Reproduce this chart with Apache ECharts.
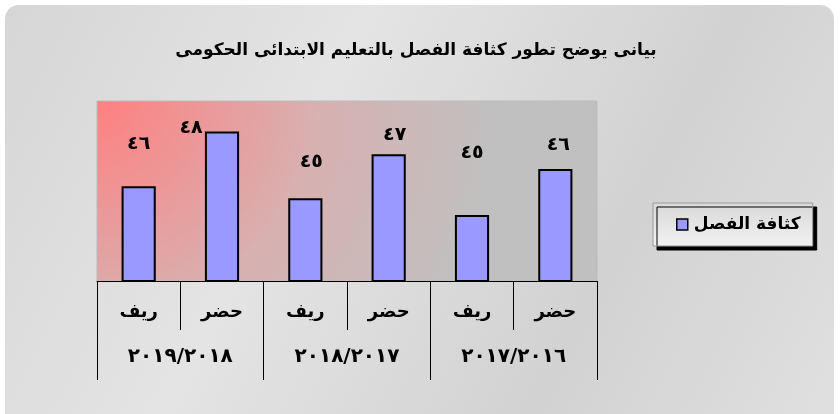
<!DOCTYPE html>
<html>
<head>
<meta charset="utf-8">
<script src="https://cdn.jsdelivr.net/npm/echarts@6/dist/echarts.min.js"></script>
<style>
html,body{margin:0;padding:0;background:#ffffff;}
#chart{width:840px;height:414px;}
</style>
</head>
<body>
<div id="chart"></div>
<script>
// ---- data (index 0 = rightmost category; axis is drawn right-to-left) ----
const chartTitle = 'بيانى يوضح تطور كثافة الفصل بالتعليم الابتدائى الحكومى';
const seriesName = 'كثافة الفصل';
const areaLabels = ['حضر', 'ريف', 'حضر', 'ريف', 'حضر', 'ريف'];
const yearLabels = ['٢٠١٧/٢٠١٦', '٢٠١٨/٢٠١٧', '٢٠١٩/٢٠١٨'];
const density = [46.36, 44.57, 46.93, 45.22, 47.81, 45.68];
const valueLabels = ['٤٦', '٤٥', '٤٧', '٤٥', '٤٨', '٤٦'];

// ---- style ----
const FONT = '"DejaVu Sans", Arial, sans-serif';
const labelShift = [[3, -9], [0, -47], [6, -5], [6, -22], [-31, 11], [0, -28]];

const chart = echarts.init(document.getElementById('chart'), null, {renderer: 'canvas'});

const barData = density.map((v, i) => ({
  value: v,
  label: {offset: labelShift[i]}
}));

chart.setOption({
  animation: false,
  backgroundColor: '#ffffff',
  graphic: [{
    type: 'rect',
    z: -10,
    shape: {x: 5, y: 5, width: 829, height: 430, r: 14},
    style: {
      fill: new echarts.graphic.LinearGradient(0, 0, 1, 1, [
        {offset: 0, color: '#d6d6d6'},
        {offset: 0.35, color: '#e4e4e4'},
        {offset: 0.7, color: '#d2d2d2'},
        {offset: 1, color: '#e0e0e0'}
      ])
    },
    silent: true
  }],
  title: {
    text: chartTitle,
    left: 411,
    textAlign: 'center',
    top: 37,
    textStyle: {fontFamily: FONT, fontSize: 17, fontWeight: 'bold', color: '#000'}
  },
  legend: {
    data: [seriesName],
    left: 653,
    top: 203,
    padding: [13, 12, 13, 23],
    itemWidth: 11,
    itemHeight: 11,
    itemGap: 4,
    icon: 'rect',
    backgroundColor: new echarts.graphic.LinearGradient(0, 0, 0, 1, [
      {offset: 0, color: '#d8d8d8'},
      {offset: 1, color: '#f2f2f2'}
    ]),
    borderColor: '#999',
    borderWidth: 1,
    shadowColor: '#000',
    shadowBlur: 0,
    shadowOffsetX: 4,
    shadowOffsetY: 4,
    itemStyle: {borderColor: '#000', borderWidth: 1.5},
    textStyle: {fontFamily: FONT, fontSize: 17, fontWeight: 'bold', color: '#000', padding: [0, 0, 0, 1]}
  },
  grid: {
    left: 97, right: 243, top: 101, bottom: 133,
    show: true,
    borderColor: '#bbb',
    borderWidth: 1,
    backgroundColor: new echarts.graphic.RadialGradient(0, 0, 2.2, [
      {offset: 0, color: '#ff8080'},
      {offset: 0.55, color: '#d8b0b0'},
      {offset: 1, color: '#c0c0c0'}
    ])
  },
  xAxis: [{
    type: 'category',
    inverse: true,
    data: areaLabels,
    position: 'bottom',
    axisLine: {show: true, lineStyle: {color: '#000', width: 1}},
    axisTick: {show: true, interval: 0, length: 49, lineStyle: {color: '#000', width: 1}},
    axisLabel: {
      interval: 0, margin: 22,
      fontFamily: FONT, fontSize: 18, fontWeight: 'bold', color: '#000'
    }
  }, {
    type: 'category',
    inverse: true,
    data: yearLabels,
    position: 'bottom',
    axisLine: {show: false},
    axisTick: {show: true, interval: 0, length: 99, lineStyle: {color: '#000', width: 1}},
    axisLabel: {
      interval: 0, margin: 66,
      fontFamily: FONT, fontSize: 20, fontWeight: 'bold', color: '#000'
    }
  }],
  yAxis: {
    type: 'value',
    min: 42,
    max: 49,
    show: false,
    splitLine: {show: false}
  },
  series: [{
    name: seriesName,
    type: 'bar',
    xAxisIndex: 0,
    barWidth: '41%',
    data: barData,
    itemStyle: {color: '#9999ff', borderColor: '#000', borderWidth: 2},
    label: {
      show: true,
      position: 'top',
      distance: 5,
      formatter: p => valueLabels[p.dataIndex],
      fontFamily: FONT, fontSize: 19, fontWeight: 'bold', color: '#000'
    }
  }]
});
</script>
</body>
</html>
